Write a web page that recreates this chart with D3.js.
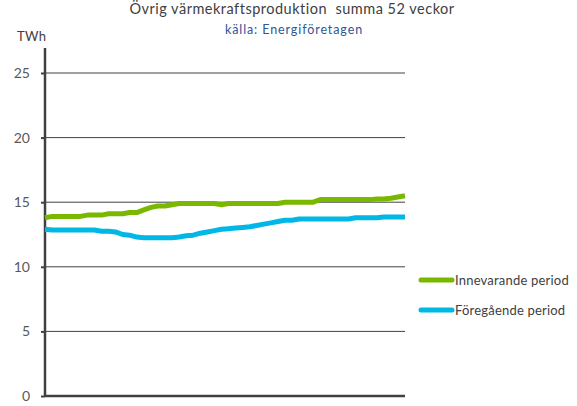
<!DOCTYPE html>
<meta charset="utf-8">
<style>
  body { margin: 0; background: #fff; }
  text { font-family: Lato, "Open Sans", sans-serif; }
</style>
<body>
<svg width="577" height="406"></svg>
<script src="https://cdnjs.cloudflare.com/ajax/libs/d3/7.8.5/d3.min.js"></script>
<script>

var weeks = d3.range(1, 53);
var yTicks = [0, 5, 10, 15, 20, 25];
var seriesNames = ["Innevarande period", "Föregående period"];

var innevarande = [13.8,13.9,13.9,13.9,13.9,13.9,14.0,14.0,14.0,14.1,14.1,14.1,14.2,14.2,14.4,14.6,14.7,14.7,14.8,14.9,
  14.9,14.9,14.9,14.9,14.9,14.8,14.9,14.9,14.9,14.9,14.9,14.9,14.9,14.9,15.0,15.0,15.0,15.0,15.0,15.2,
  15.2,15.2,15.2,15.2,15.2,15.2,15.2,15.25,15.25,15.3,15.4,15.5];
var foregaende = [12.9,12.85,12.85,12.85,12.85,12.85,12.85,12.85,12.75,12.75,12.7,12.5,12.45,12.3,12.25,12.25,12.25,12.25,12.25,12.3,
  12.4,12.45,12.6,12.7,12.8,12.9,12.95,13.0,13.05,13.1,13.2,13.3,13.4,13.5,13.6,13.6,13.7,13.7,13.7,13.7,
  13.7,13.7,13.7,13.7,13.8,13.8,13.8,13.8,13.85,13.85,13.85,13.85];

var colors = ["#7ab800", "#00b7e6"];

var svg = d3.select("svg");
var margin = {top: 48, left: 45, right: 172, bottom: 10};
var width = 577 - margin.left - margin.right;

var x = d3.scaleLinear().domain([1, 52]).range([margin.left, margin.left + width]);
var y = d3.scaleLinear().domain([0, 25]).range([396, 73]);

// title
svg.append("text")
  .attr("x", 292).attr("y", 14)
  .attr("text-anchor", "middle")
  .style("font-size", "14.5px")
  .style("letter-spacing", "0.5px")
  .style("white-space", "pre")
  .style("fill", "#404040")
  .text("Övrig värmekraftsproduktion  summa 52 veckor");

svg.append("text")
  .attr("x", 294).attr("y", 34)
  .attr("text-anchor", "middle")
  .style("font-size", "12.5px")
  .style("letter-spacing", "0.9px")
  .style("fill", "#2f5597")
  .text("källa: Energiföretagen");

svg.append("text")
  .attr("x", 17).attr("y", 41)
  .style("font-size", "13px")
  .style("letter-spacing", "0.3px")
  .style("fill", "#404040")
  .text("TWh");

// gridlines
svg.append("g")
  .selectAll("line")
  .data(yTicks.filter(d => d > 0))
  .enter().append("line")
  .attr("x1", margin.left).attr("x2", margin.left + width)
  .attr("y1", d => y(d)).attr("y2", d => y(d))
  .attr("stroke", "#404040").attr("stroke-width", 1);

// y axis
var yAxis = svg.append("g")
  .attr("transform", "translate(" + margin.left + ",0)")
  .call(d3.axisLeft(y).tickValues(yTicks).tickSize(4).tickPadding(11));
yAxis.select(".domain").remove();
yAxis.selectAll(".tick line").attr("stroke", "#404040").attr("stroke-width", 2);
yAxis.selectAll(".tick text")
  .style("font-size", "14px")
  .style("font-family", "Lato, sans-serif")
  .style("fill", "#595959");

svg.append("line")
  .attr("x1", margin.left).attr("x2", margin.left)
  .attr("y1", margin.top).attr("y2", y(0) + 1)
  .attr("stroke", "#404040").attr("stroke-width", 2.5);

svg.append("line")
  .attr("x1", margin.left).attr("x2", margin.left + width)
  .attr("y1", y(0)).attr("y2", y(0))
  .attr("stroke", "#404040").attr("stroke-width", 2.5);

// lines
var line = d3.line()
  .x((d, i) => x(weeks[i]))
  .y(d => y(d));

[innevarande, foregaende].forEach(function(s, k) {
  svg.append("path")
    .attr("d", line(s))
    .attr("fill", "none")
    .attr("stroke", colors[k])
    .attr("stroke-width", 5)
    .attr("stroke-linejoin", "round");
});

// legend
var legend = svg.append("g");
seriesNames.forEach(function(name, k) {
  var ly = 280 + k * 30;
  legend.append("line")
    .attr("x1", 421).attr("x2", 452)
    .attr("y1", ly).attr("y2", ly)
    .attr("stroke", colors[k]).attr("stroke-width", 5)
    .attr("stroke-linecap", "round");
  legend.append("text")
    .attr("x", 455).attr("y", ly + 5)
    .style("font-size", "13px")
    .style("letter-spacing", "0.2px")
    .style("fill", "#404040")
    .text(name);
});

</script>
</body>
